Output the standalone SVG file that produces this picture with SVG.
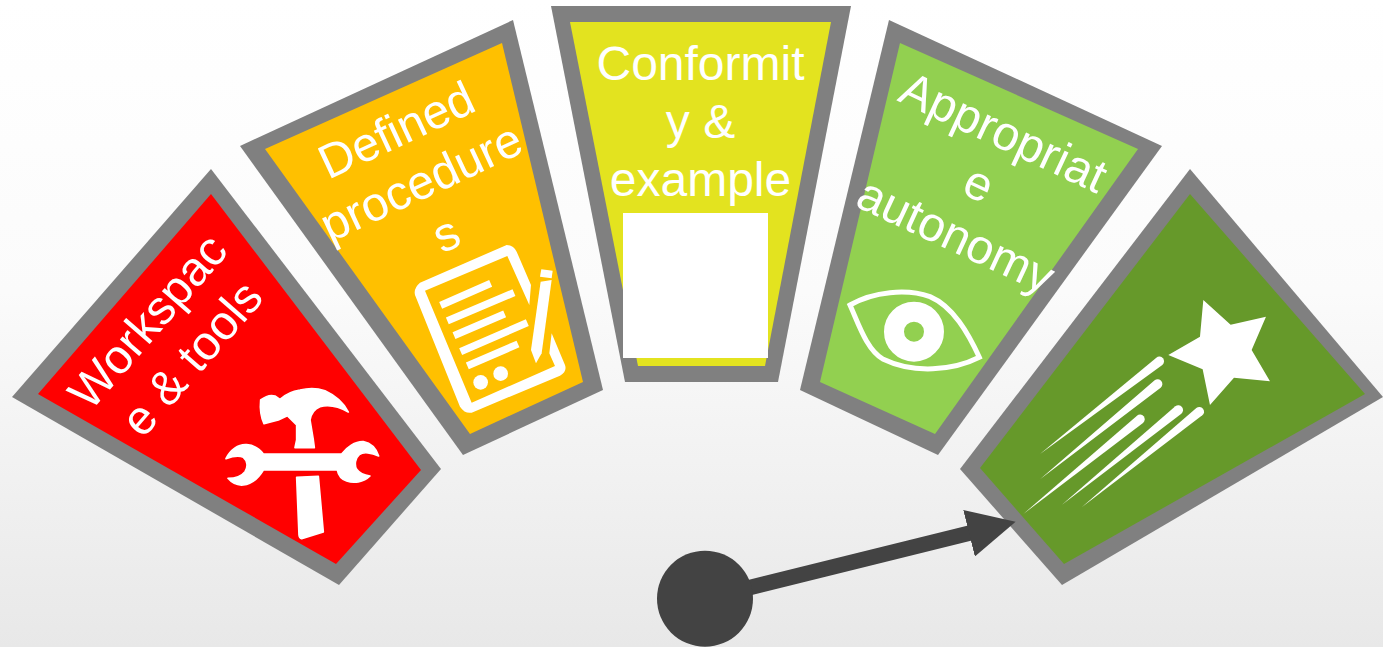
<svg xmlns="http://www.w3.org/2000/svg" width="1383" height="647" viewBox="0 0 1383 647">
<style>
.frame{fill:#808080}
.lbl{font-family:"Liberation Sans",Arial,sans-serif;font-size:48px;fill:#fff;text-anchor:middle}
.ic{fill:#fff}
</style>
<defs>
<linearGradient id="bg" x1="0" y1="0" x2="0" y2="1">
<stop offset="0" stop-color="#ffffff"/>
<stop offset="0.45" stop-color="#fbfbfb"/>
<stop offset="1" stop-color="#e8e8e8"/>
</linearGradient>
<marker id="head" markerUnits="userSpaceOnUse" markerWidth="50" markerHeight="48" refX="1" refY="24" orient="auto">
<path d="M0,0L48,24L0,48Z" fill="#434343"/>
</marker>
</defs>
<rect width="1383" height="647" fill="url(#bg)"/>
<g id="node-workspace">
<polygon class="frame" points="211,169 441,469 339,585 12,397"/>
<polygon fill="#ff0000" points="211,194 421,470 336,564 38,394"/>
<text class="lbl" transform="translate(160,332) rotate(-49)">Workspac</text>
<text class="lbl" transform="translate(204,369) rotate(-49)">e &amp; tools</text>
<g class="ic" transform="translate(200,370) scale(.3333)" stroke="#fff" stroke-width="5" stroke-linejoin="round">
<path d="M182,90Q205,72 225,78L240,88Q265,65 300,60Q340,50 375,62Q425,85 445,126Q400,100 360,110Q335,120 330,150L340,210L343,233H285L290,210V165L262,137L235,150L192,161Q178,130 182,90Z"/>
<path d="M290,322L355,319L370,486L305,506Q298,505 297,495Z"/>
<path d="M78,266C90,240 115,222 140,224C165,226 180,238 190,252H425C440,232 465,214 490,215C515,220 530,240 536,258C515,248 490,244 478,254C465,265 463,285 470,298C480,312 495,316 510,318C490,338 460,340 440,333C425,328 415,315 412,300H190C175,325 155,342 130,345C110,347 95,338 84,325C105,325 125,318 135,305C145,290 142,272 130,262C115,255 95,260 78,266Z"/>
</g>
</g>
<g id="node-procedures">
<polygon class="frame" points="513,20 603,390 463,455 240,146"/>
<polygon fill="#ffc000" points="502,43 583,382 470,434 265,149"/>
<text class="lbl" transform="translate(403.300,145) rotate(-25)">Defined</text>
<text class="lbl" transform="translate(428,197) rotate(-25)">procedure</text>
<text class="lbl" transform="translate(453,249) rotate(-25)">s</text>
<g transform="translate(400,230) scale(.3333)">
<path class="ic" d="M320,45Q340,45 350,65L393,165L388,225L322,78L75,182L215,518L465,408L448,370L455,310L495,405Q502,425 480,437L215,548Q195,552 180,530L45,195Q40,175 60,158Z"/>
<path d="M122,226L272,160M142,273L342,188M162,317L314,252M182,365L382,278M202,408L354,342" stroke="#fff" stroke-width="22" fill="none"/>
<circle class="ic" cx="242" cy="457" r="22"/>
<circle class="ic" cx="302" cy="431" r="22"/>
<path class="ic" d="M422,155L455,150L425,370L408,400L393,360Z"/>
<path class="ic" d="M424,118L458,122L455,145L420,140Z"/>
</g>
</g>
<g id="node-conformity">
<polygon class="frame" points="551,6 851,6 778,382 625,382"/>
<polygon fill="#e3e31f" points="570,22 831,22 765,366 638,366"/>
<text class="lbl" x="700.500" y="80">Conformit</text>
<text class="lbl" x="700.500" y="138">y &amp;</text>
<text class="lbl" x="700.500" y="196">example</text>
<rect x="623" y="213" width="145" height="145" fill="#fff"/>
</g>
<g id="node-autonomy">
<polygon class="frame" points="889,20 1162,146 938,455 800,390"/>
<polygon fill="#92d050" points="900,43 1138,149 935,434 820,382"/>
<text class="lbl" transform="translate(996.700,147) rotate(25)">Appropriat</text>
<text class="lbl" transform="translate(972,198.500) rotate(25)">e</text>
<text class="lbl" transform="translate(949,250) rotate(25)">autonomy</text>
<g transform="translate(840,280) scale(.3333)">
<path d="M30,75C100,35 200,25 270,50C340,80 385,160 418,232C340,272 220,282 130,238C80,210 55,130 30,75Z" fill="none" stroke="#fff" stroke-width="15"/>
<circle cx="222" cy="155" r="60" fill="none" stroke="#fff" stroke-width="60"/>
</g>
</g>
<g id="node-excellence">
<polygon class="frame" points="1190,169 1383,397 1062,585 960,469"/>
<polygon fill="#66992a" points="1190,194 1365,394 1064,564 980,468"/>
<g class="ic" transform="translate(1010,290) scale(.3333)">
<polygon points="580,30 662,104 768,80 725,180 780,274 672,263 600,345 578,238 475,195 570,140"/>
<path d="M90,492L439,203A14,14 0 0 1 457,225Z"/>
<path d="M90,568L434,271A14,14 0 0 1 452,293Z"/>
<path d="M40,672L381,377A14,14 0 0 1 399,399Z"/>
<path d="M155,645L496,349A14,14 0 0 1 514,371Z"/>
<path d="M215,652L559,354A14,14 0 0 1 577,376Z"/>
</g>
</g>
<g id="connectors">
<line x1="705" y1="598.700" x2="970" y2="533" stroke="#434343" stroke-width="15.500" marker-end="url(#head)"/>
</g>
<g id="node-hub">
<circle cx="705" cy="598.700" r="48" fill="#434343"/>
</g>
</svg>
